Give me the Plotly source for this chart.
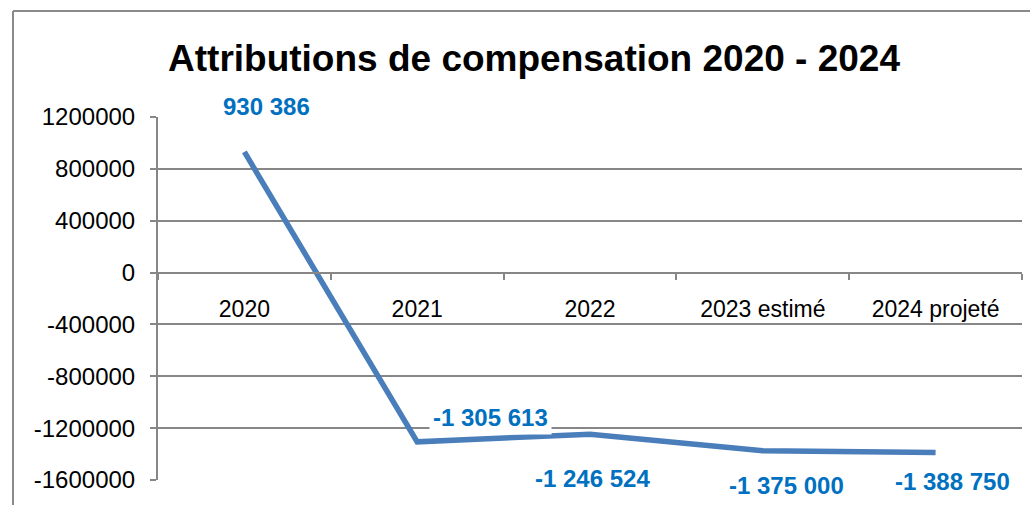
import plotly.graph_objects as go

categories = ["2020", "2021", "2022", "2023 estimé", "2024 projeté"]
values = [930386, -1305613, -1246524, -1375000, -1388750]
value_labels = ["930 386", "-1 305 613", "-1 246 524", "-1 375 000", "-1 388 750"]
y_ticks = [1200000, 800000, 400000, 0, -400000, -800000, -1200000, -1600000]
# label offsets (pixels) relative to each point
label_dx = [22, 73, 2, 24, 17]
label_dy = [45, 24, -44, -35, -29]

ymin, ymax = -1600000, 1200000
W, H = 1030, 505
ml, mr, mt, mb = 158, 8, 117, 25
pw, ph = W - ml - mr, H - mt - mb

font = "Liberation Sans"
grid = "#878787"
blue = "#0070C0"

fig = go.Figure()
fig.add_trace(go.Scatter(
    x=categories, y=values, mode="lines",
    line=dict(color="#4A7EBB", width=5.5),
    hoverinfo="skip", showlegend=False,
))

for i, (v, t, dx, dy) in enumerate(zip(values, value_labels, label_dx, label_dy)):
    fig.add_annotation(
        x=i, y=v, text=t, showarrow=False, xshift=dx, yshift=dy,
        xref="x", yref="y",
        font=dict(family=font, size=24, color=blue, weight="bold"),
        bgcolor="white", borderpad=3,
    )

# outer chart frame (left and top edges)
fx0 = (13 - ml) / pw
fy1 = (H - mb - 11) / ph
fig.add_shape(type="line", xref="paper", yref="paper", x0=fx0, x1=fx0, y0=-0.2, y1=fy1,
              line=dict(color="#8a8a8a", width=2))
fig.add_shape(type="line", xref="paper", yref="paper", x0=fx0, x1=1.1, y0=fy1, y1=fy1,
              line=dict(color="#8a8a8a", width=2))

fig.update_layout(
    width=W, height=H,
    margin=dict(l=ml, r=mr, t=mt, b=mb, autoexpand=False),
    paper_bgcolor="white", plot_bgcolor="white",
    title=dict(text="<b>Attributions de compensation 2020 - 2024</b>",
               x=534 / W, xanchor="center", y=1 - 58 / H, yanchor="middle",
               xref="container", yref="container",
               font=dict(family=font, size=37, color="black")),
    xaxis=dict(
        type="category", categoryorder="array", categoryarray=categories,
        range=[-0.5, len(categories) - 0.5], autorange=False,
        anchor="free", position=(0 - ymin) / (ymax - ymin),
        showgrid=False, showline=True, linecolor=grid, linewidth=2,
        ticks="outside", tickson="boundaries", ticklen=6, tickcolor=grid, tickwidth=2,
        tickfont=dict(family=font, size=23, color="black"), tickangle=0,
        ticklabelstandoff=16, zeroline=False, automargin=False,
    ),
    yaxis=dict(
        range=[ymin, ymax], autorange=False, tickvals=y_ticks, ticktext=[str(v) for v in y_ticks],
        showgrid=True, gridcolor=grid, gridwidth=2,
        showline=True, linecolor=grid, linewidth=2,
        ticks="outside", ticklen=6, tickcolor=grid, tickwidth=2,
        tickfont=dict(family=font, size=24, color="black"),
        ticklabelstandoff=10, zeroline=False, automargin=False,
    ),
)

fig.write_html("out.html", config={"displayModeBar": False},
               post_script="document.body.style.margin='0';")
